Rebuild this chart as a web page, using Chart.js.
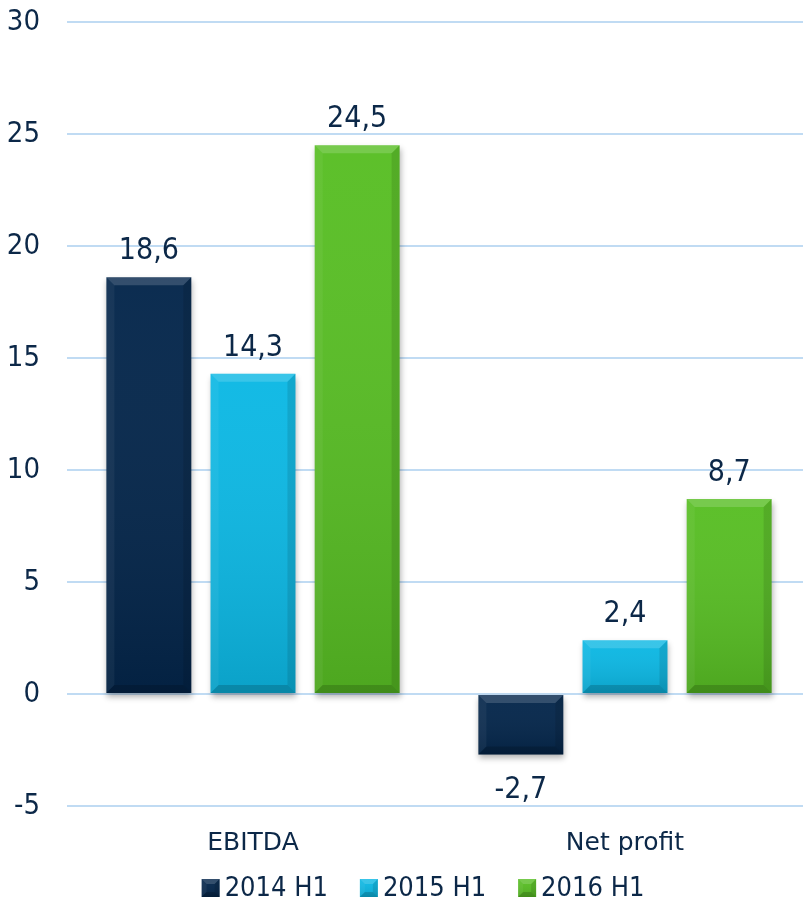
<!DOCTYPE html>
<html>
<head>
<meta charset="utf-8">
<script src="https://cdn.jsdelivr.net/npm/chart.js@4.4.0/dist/chart.umd.min.js"></script>
<style>
  html, body { margin: 0; padding: 0; background: #fff; overflow: hidden; }
  canvas { display: block; }
</style>
</head>
<body>
<canvas id="chart" width="811" height="916"></canvas>
<script>
const categories = ['EBITDA', 'Net profit'];
const seriesNames = ['2014 H1', '2015 H1', '2016 H1'];
const values2014 = [18.6, -2.7];
const values2015 = [14.3, 2.4];
const values2016 = [24.5, 8.7];
const yTicks = [-5, 0, 5, 10, 15, 20, 25, 30];

const textColor = '#0c2848';
const fontFamily = '"DejaVu Sans Condensed", "DejaVu Sans", sans-serif';
const colors = ['#04264b', '#0cb8e4', '#58be24'];

function poly(ctx, pts, fill) {
  ctx.beginPath();
  ctx.moveTo(pts[0][0], pts[0][1]);
  for (let k = 1; k < pts.length; k++) ctx.lineTo(pts[k][0], pts[k][1]);
  ctx.closePath();
  ctx.fillStyle = fill;
  ctx.fill();
}

// bevel look of the original bars (also used for legend boxes)
function bevel(ctx, l, t, r, b, size) {
  const bv = Math.min(size, (b - t) / 2);
  const g = ctx.createLinearGradient(0, t, 0, b);
  g.addColorStop(0, 'rgba(255,255,255,0.03)');
  g.addColorStop(1, 'rgba(0,0,0,0.12)');
  ctx.fillStyle = g;
  ctx.fillRect(l, t, r - l, b - t);
  poly(ctx, [[l, t], [r, t], [r - bv, t + bv], [l + bv, t + bv]], 'rgba(255,255,255,0.16)');
  poly(ctx, [[l, t], [l + bv, t + bv], [l + bv, b - bv], [l, b]], 'rgba(255,255,255,0.05)');
  poly(ctx, [[r, t], [r, b], [r - bv, b - bv], [r - bv, t + bv]], 'rgba(0,0,0,0.1)');
  poly(ctx, [[l, b], [l + bv, b - bv], [r - bv, b - bv], [r, b]], 'rgba(0,0,0,0.16)');
}

const barStyle = {
  id: 'barStyle',
  beforeDatasetsDraw(chart) {
    const ctx = chart.ctx;
    ctx.save();
    ctx.shadowColor = 'rgba(0,0,0,0.3)';
    ctx.shadowBlur = 6;
    ctx.shadowOffsetX = 1;
    ctx.shadowOffsetY = 4;
  },
  afterDatasetsDraw(chart) {
    const ctx = chart.ctx;
    ctx.restore();
    chart.data.datasets.forEach((ds, i) => {
      const meta = chart.getDatasetMeta(i);
      meta.data.forEach((bar, j) => {
        const p = bar.getProps(['x', 'y', 'base', 'width'], true);
        const l = p.x - p.width / 2, r = p.x + p.width / 2;
        const t = Math.min(p.y, p.base), b = Math.max(p.y, p.base);
        bevel(ctx, l, t, r, b, 8);

        const v = ds.data[j];
        ctx.font = '30px ' + fontFamily;
        ctx.fillStyle = textColor;
        ctx.textAlign = 'center';
        ctx.textBaseline = 'alphabetic';
        const txt = String(v).replace('.', ',');
        if (v >= 0) ctx.fillText(txt, p.x, p.y - 18);
        else ctx.fillText(txt, p.x, p.y + 44);
      });
    });
  }
};

// legend drawn by hand so the box/text spacing matches the original
const bottomLegend = {
  id: 'bottomLegend',
  afterDraw(chart) {
    const ctx = chart.ctx;
    const cy = 888, box = 18, gap = 5, between = 32;
    ctx.save();
    ctx.font = '27px ' + fontFamily;
    const items = chart.data.datasets.map(ds => ({ text: ds.label, color: ds.backgroundColor, w: ctx.measureText(ds.label).width }));
    const total = items.reduce((s, it) => s + box + gap + it.w, 0) + between * (items.length - 1);
    let x = 423 - total / 2;
    items.forEach(it => {
      ctx.fillStyle = it.color;
      ctx.fillRect(x, cy - box / 2, box, box);
      bevel(ctx, x, cy - box / 2, x + box, cy + box / 2, 5);
      ctx.fillStyle = textColor;
      ctx.textAlign = 'left';
      ctx.textBaseline = 'middle';
      ctx.fillText(it.text, x + box + gap, cy + 1);
      x += box + gap + it.w + between;
    });
    ctx.restore();
  }
};

new Chart(document.getElementById('chart'), {
  type: 'bar',
  data: {
    labels: categories,
    datasets: [
      { label: seriesNames[0], data: values2014, backgroundColor: colors[0] },
      { label: seriesNames[1], data: values2015, backgroundColor: colors[1] },
      { label: seriesNames[2], data: values2016, backgroundColor: colors[2] }
    ]
  },
  options: {
    responsive: false,
    animation: false,
    events: [],
    layout: { padding: { top: 22, right: 0, bottom: 58, left: 0 } },
    datasets: {
      bar: { categoryPercentage: 0.84, barPercentage: 0.815 }
    },
    scales: {
      x: {
        grid: { display: false, drawTicks: false },
        border: { display: false },
        afterFit(scale) { scale.height = 52; },
        ticks: { color: textColor, font: { family: '"DejaVu Sans", sans-serif', size: 25 }, padding: 22 }
      },
      y: {
        min: yTicks[0],
        max: yTicks[yTicks.length - 1],
        afterBuildTicks(scale) { scale.ticks = yTicks.map(v => ({ value: v })); },
        afterFit(scale) {
          scale.width = 67;
          scale.paddingTop = 0;
          scale.paddingBottom = 0;
        },
        grid: { color: '#c0dbf3', lineWidth: 2, drawTicks: false },
        border: { display: false },
        ticks: { color: textColor, font: { family: fontFamily, size: 29 }, padding: 27 }
      }
    },
    plugins: {
      legend: { display: false },
      tooltip: { enabled: false }
    }
  },
  plugins: [barStyle, bottomLegend]
});
</script>
</body>
</html>
